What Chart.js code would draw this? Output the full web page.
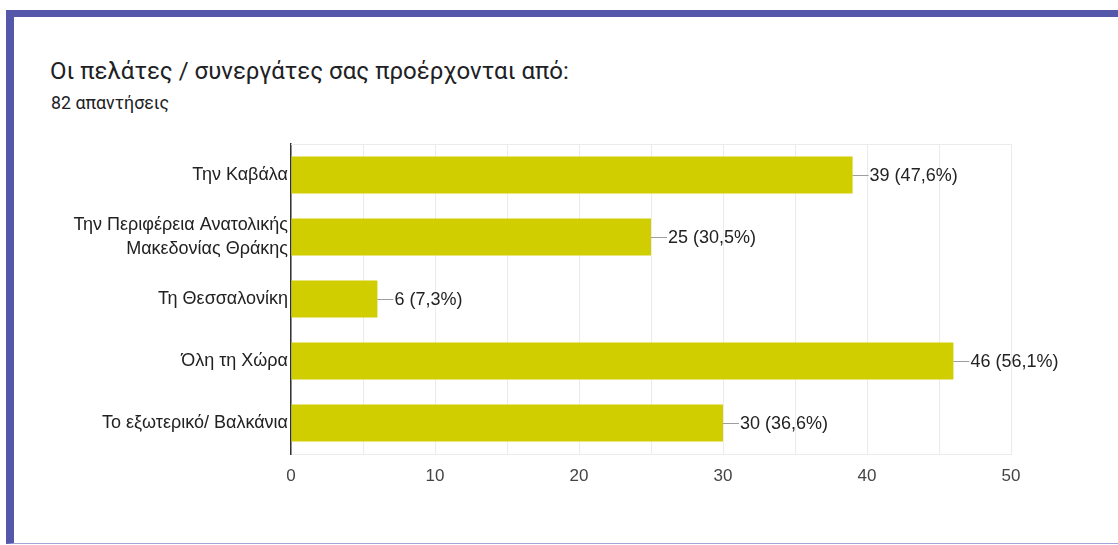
<!DOCTYPE html>
<html>
<head>
<meta charset="utf-8">
<script src="https://cdn.jsdelivr.net/npm/chart.js@4"></script>
<style>
	html, body { margin: 0; padding: 0; background: #fff; }
	#card {
		position: relative;
		width: 1118px;
		height: 545px;
		overflow: hidden;
	}
	#frame {
		position: absolute;
		left: 6px; top: 10px;
		width: 1112px; height: 534px;
		border-top: 7px solid #5558aa;
		border-left: 8px solid #5558aa;
		border-bottom: 1px solid #a3a5d9;
		box-sizing: border-box;
	}
	#title {
		position: absolute;
		left: 50px; top: 57px;
		font: 24px Roboto, "Noto Sans", sans-serif;
		color: #202124;
		white-space: nowrap;
	}
	#subtitle {
		position: absolute;
		left: 51px; top: 92px;
		font: 17.8px Roboto, "Noto Sans", sans-serif;
		color: #202124;
	}
	#graphics-canvas {
		position: absolute;
		left: 0; top: 0;
	}
</style>
</head>
<body>
<div id="card">
	<div id="frame"></div>
	<div id="title">Οι πελάτες / συνεργάτες σας προέρχονται από:</div>
	<div id="subtitle">82 απαντήσεις</div>
	<canvas id="graphics-canvas" width="1118" height="545"></canvas>
</div>
<script>
const categories = [
	"Την Καβάλα",
	["Την Περιφέρεια Ανατολικής", "Μακεδονίας Θράκης"],
	"Τη Θεσσαλονίκη",
	"Όλη τη Χώρα",
	"Το εξωτερικό/ Βαλκάνια"
];
const answers = [39, 25, 6, 46, 30];
const total_answers = 82;
const x_ticks = [0, 10, 20, 30, 40, 50];

const label_font = "'Liberation Sans', Arial, sans-serif";

// count plus percentage beside each bar, with a short grey leader line
const value_labels = {
	id: "value_labels",
	afterDatasetsDraw (chart) {
		let ctx = chart.ctx;
		let meta = chart.getDatasetMeta(0);
		ctx.save();
		ctx.font = "18px " + label_font;
		ctx.textBaseline = "middle";
		meta.data.forEach((bar, i) => {
			let v = answers[i];
			let pct = (v / total_answers * 100).toFixed(1).replace(".", ",");
			ctx.strokeStyle = "#9e9e9e";
			ctx.lineWidth = 1;
			ctx.beginPath();
			ctx.moveTo(bar.x, bar.y + 0.5);
			ctx.lineTo(bar.x + 16, bar.y + 0.5);
			ctx.stroke();
			ctx.fillStyle = "#222";
			ctx.fillText(v + " (" + pct + "%)", bar.x + 17, bar.y + 1);
		});
		ctx.restore();
	}
};

// light line across the top of the plot area
const top_line = {
	id: "top_line",
	beforeDatasetsDraw (chart) {
		let a = chart.chartArea;
		let ctx = chart.ctx;
		ctx.save();
		ctx.strokeStyle = "#ebebeb";
		ctx.lineWidth = 1;
		ctx.beginPath();
		ctx.moveTo(a.left, a.top + 0.5);
		ctx.lineTo(a.right, a.top + 0.5);
		ctx.stroke();
		ctx.restore();
	}
};

let canvas = document.getElementById("graphics-canvas");
new Chart(canvas, {
	type: "bar",
	data: {
		labels: categories,
		datasets: [{
			data: answers,
			backgroundColor: "#d0cd00",
			categoryPercentage: 0.6,
			barPercentage: 1
		}]
	},
	options: {
		indexAxis: "y",
		responsive: false,
		animation: false,
		layout: { padding: { top: 144, right: 107, bottom: 51, left: 0 } },
		plugins: {
			legend: { display: false },
			tooltip: { enabled: false }
		},
		scales: {
			x: {
				min: 0,
				max: 50,
				afterFit (scale) { scale.height = 40; },
				afterBuildTicks (scale) {
					scale.ticks = [];
					for (let v = 0; v <= 50; v += 5) scale.ticks.push({ value: v });
				},
				ticks: {
					autoSkip: false,
					maxRotation: 0,
					padding: 12,
					color: "#444",
					font: { family: label_font, size: 17 },
					callback: v => x_ticks.includes(v) ? String(v) : ""
				},
				grid: { color: "#ebebeb", drawTicks: false },
				border: { color: "#ebebeb" }
			},
			y: {
				afterFit (scale) { scale.width = 291; },
				ticks: {
					padding: 3,
					color: "#222",
					font: { family: label_font, size: 18, lineHeight: 1.3 }
				},
				grid: { display: false, drawTicks: false },
				border: { color: "#333", width: 1.5 }
			}
		}
	},
	plugins: [top_line, value_labels]
});
</script>
</body>
</html>
